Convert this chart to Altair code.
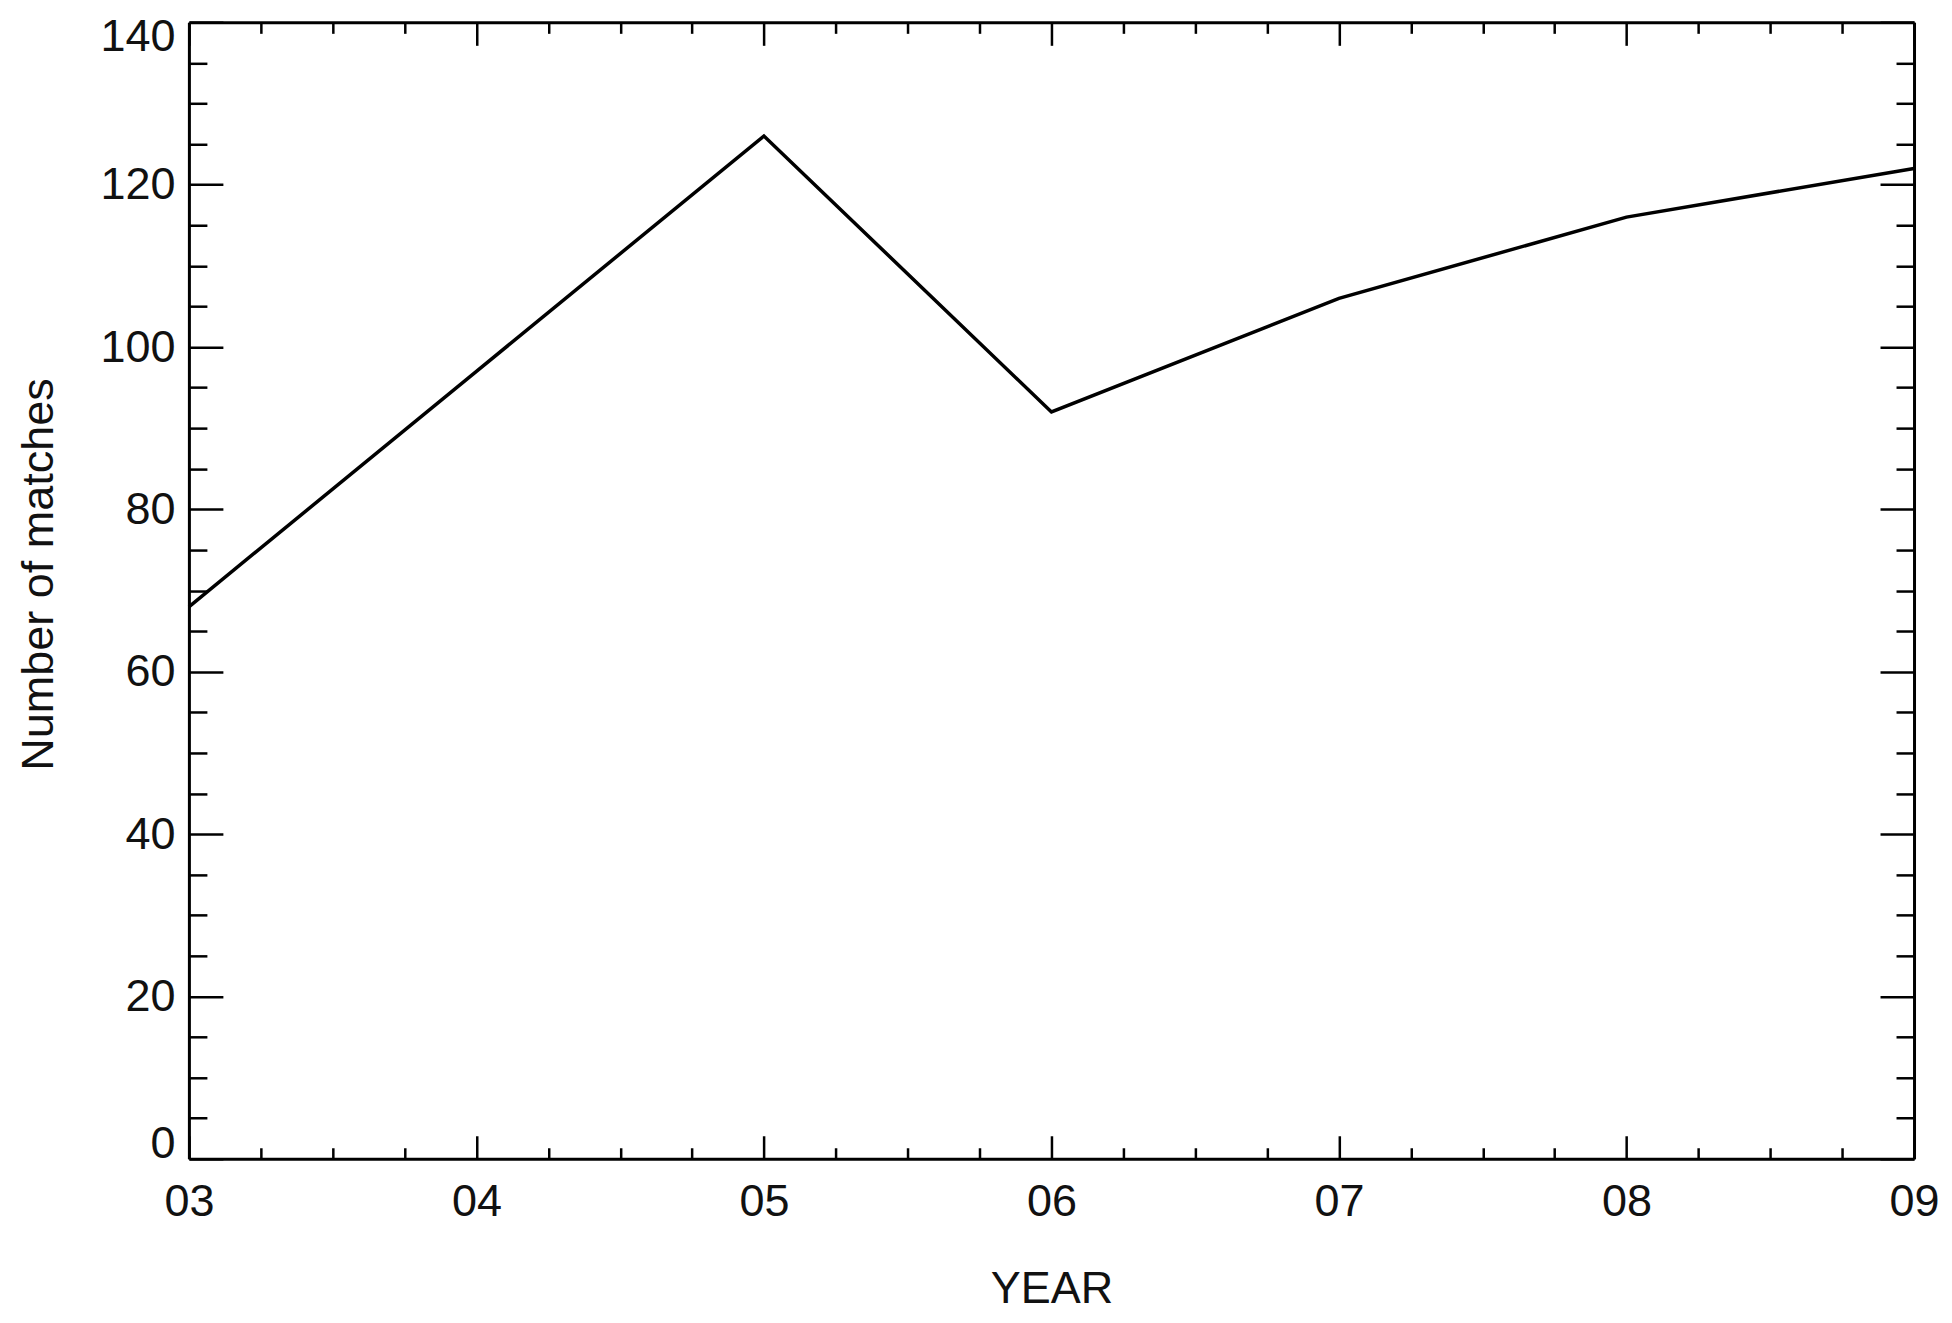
import altair as alt
import pandas as pd

years = [3, 4, 5, 6, 7, 8, 9]
matches = [68, 97, 126, 92, 106, 116, 122]

x_major = [3, 4, 5, 6, 7, 8, 9]
x_minor = [3.25, 3.5, 3.75, 4.25, 4.5, 4.75, 5.25, 5.5, 5.75,
           6.25, 6.5, 6.75, 7.25, 7.5, 7.75, 8.25, 8.5, 8.75]
y_major = [0, 20, 40, 60, 80, 100, 120, 140]
y_minor = [5, 10, 15, 25, 30, 35, 45, 50, 55, 65, 70, 75, 85, 90, 95,
           105, 110, 115, 125, 130, 135]

df = pd.DataFrame({"year": years, "matches": matches})

W = 1726
H = 1137
FONT = "Liberation Sans"
FS = 45

xscale = alt.Scale(domain=[3, 9], nice=False, zero=False)
yscale = alt.Scale(domain=[0, 140], nice=False, zero=False)

def tick_axis(orient, offset, values, size, domain=False):
    if domain:
        kw = dict(domain=True, domainColor="black", domainWidth=3)
    else:
        kw = dict(domain=False)
    return alt.Axis(orient=orient, offset=offset, values=values, tickSize=size,
                    tickWidth=2.5, tickColor="black", labels=False,
                    grid=False, title=None, **kw)

def layer(xaxis, yaxis, visible=False):
    return alt.Chart(df).mark_line(
        color="black", strokeWidth=3.5, opacity=1 if visible else 0
    ).encode(
        x=alt.X("year:Q", scale=xscale, axis=xaxis),
        y=alt.Y("matches:Q", scale=yscale, axis=yaxis),
    )

main = layer(
    alt.Axis(orient="bottom", values=x_major, ticks=False, tickSize=0,
             domain=True, domainColor="black", domainWidth=3,
             grid=False, labelExpr="'0' + datum.value", labelFont=FONT,
             labelFontSize=FS, labelColor="#111", labelPadding=21, labelFlush=False,
             title="YEAR", titleFont=FONT, titleFontSize=FS, titleFontWeight="normal",
             titleColor="#111", titleY=108, titleBaseline="top"),
    alt.Axis(orient="left", values=y_major, ticks=False, tickSize=0,
             domain=True, domainColor="black", domainWidth=3,
             grid=False, labelFont=FONT, labelFontSize=FS, labelColor="#111",
             labelPadding=14, labelFlush=True, labelFlushOffset=8,
             title="Number of matches", titleFont=FONT, titleFontSize=FS,
             titleFontWeight="normal", titleColor="#111", titleAngle=270,
             titleX=-136, titleY=552, titleAlign="center", titleBaseline="alphabetic"),
    visible=True,
)

l2 = layer(tick_axis("top", -H, x_major, 23), tick_axis("right", -W, y_major, 34))
l3 = layer(tick_axis("bottom", -H, x_major, 23, domain=True),
           tick_axis("left", -W, y_major, 34, domain=True))
l4 = layer(tick_axis("top", -H, x_minor, 11), tick_axis("right", -W, y_minor, 18))
l5 = layer(tick_axis("bottom", -H, x_minor, 11), tick_axis("left", -W, y_minor, 18))

chart = alt.layer(l2, l3, l4, l5, main).resolve_axis(
    x="independent", y="independent"
).properties(
    width=W, height=H,
    padding={"left": 181, "top": 14, "right": 30, "bottom": 162},
    autosize=alt.AutoSizeParams(type="none"),
).configure_view(
    strokeWidth=0
).configure(background="white")

chart.save("out.html", embed_options={"renderer": "svg", "actions": False})
